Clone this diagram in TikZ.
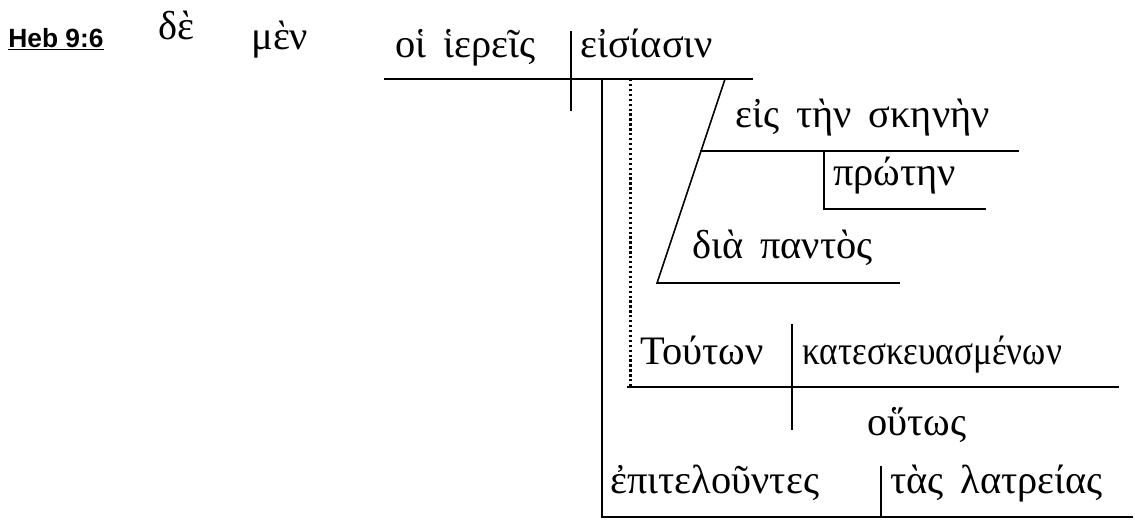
\documentclass[tikz,border=0pt]{standalone}
\usepackage{fontspec}
\setmainfont{Liberation Serif}
\newfontfamily\narrowfont[FakeStretch=0.87]{Liberation Serif}
\newfontfamily\versefont{Liberation Sans}
\usetikzlibrary{calc}
\newcommand{\wgap}{\hspace{0.42em}}

\tikzset{
	word/.style={anchor=base west, inner sep=0pt, font=\fontsize{23}{26}\selectfont},
	rule/.style={line width=0.9pt, line cap=rect},
	dotrule/.style={line width=1.7pt, dash pattern=on 1.3pt off 1.5pt},
}

\begin{document}
\begin{tikzpicture}
		%%%%% START %%%%%
		
		\useasboundingbox (0, 0) rectangle (22.7, -10.58);
		
		\node[anchor=base west, inner sep=0pt, font=\versefont\bfseries\fontsize{15}{17}\selectfont] (verse) at (0.16, -0.94) {\underline{Heb 9:6}};
		\node[word] (de) at (3.16, -0.78) {δὲ};
		\node[word] (men) at (5.02, -0.98) {μὲν};
		
		% subject and verb
		\node[word] (hiereis) at (7.9, -1.14) {οἱ\wgap ἱερεῖς};
		\node[word] (eisiasin) at (11.6, -1.14) {εἰσίασιν};
		\draw[rule] (7.7, -1.58) -- (15.04, -1.58);
		\draw[rule] (11.42, -0.64) -- (11.42, -2.2);
		
		% prepositional phrases
		\coordinate (slanttop) at (14.5, -1.58);
		\coordinate (slantbot) at (13.14, -5.66);
		\coordinate (slantmid) at (14.02, -3.02);
		\draw[rule] (slanttop) -- (slantbot) -- (17.98, -5.66);
		\draw[rule] (slantmid) -- (20.36, -3.02);
		\node[word] (skenen) at (14.7, -2.54) {εἰς\wgap τὴν\wgap σκηνὴν};
		\draw[rule] (16.48, -3.02) -- (16.48, -4.18) -- (19.7, -4.18);
		\node[word] (proten) at (16.66, -3.7) {πρώτην};
		\node[word] (pantos) at (13.84, -5.16) {διὰ\wgap παντὸς};
		
		% genitive absolute
		\draw[dotrule] (12.6, -1.58) -- (12.6, -7.74);
		\draw[rule] (12.56, -7.74) -- (22.36, -7.74);
		\draw[rule] (15.84, -6.5) -- (15.84, -8.58);
		\node[word] (touton) at (12.8, -7.28) {Τούτων};
		\node[word] (kateskeuasmenon) at (16.04, -7.28) {\narrowfont κατεσκευασμένων};
		\node[word] (houtos) at (17.34, -8.7) {οὕτως};
		
		% participle
		\draw[rule] (12.04, -1.58) -- (12.04, -10.34) -- (22.64, -10.34);
		\draw[rule] (17.62, -9.34) -- (17.62, -10.34);
		\node[word] (epitelountes) at (12.2, -9.86) {ἐπιτελοῦντες};
		\node[word] (latreias) at (17.8, -9.86) {τὰς\wgap λατρείας};
		
		%%%%% END %%%%%
	\end{tikzpicture}
\end{document}
